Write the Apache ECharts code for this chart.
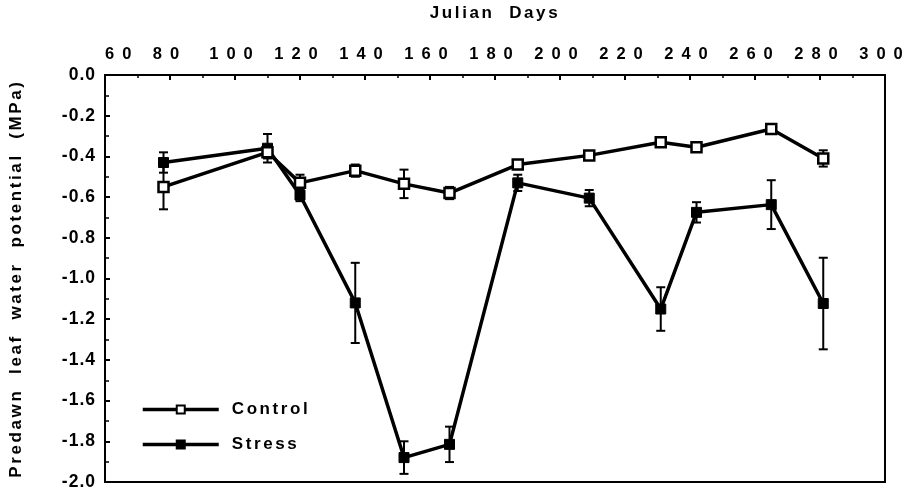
<!DOCTYPE html>
<html>
<head>
<meta charset="utf-8">
<script src="https://cdn.jsdelivr.net/npm/echarts@6/dist/echarts.min.js"></script>
<style>html,body{margin:0;padding:0;background:#fff}#c{width:908px;height:492px}</style>
</head>
<body>
<div id="c"></div>
<script>
var days = [78, 110, 120, 137, 152, 166, 187, 209, 231, 242, 265, 281];
var controlVals = [-0.55, -0.38, -0.53, -0.47, -0.535, -0.58, -0.44, -0.395, -0.33, -0.355, -0.265, -0.41];
var controlErr  = [0.11, 0.03, 0.04, 0.03, 0.07, 0.03, 0.02, 0.01, 0.02, 0.01, 0.02, 0.04];
var stressVals  = [-0.43, -0.36, -0.59, -1.12, -1.88, -1.815, -0.53, -0.605, -1.15, -0.675, -0.637, -1.123];
var stressErr   = [0.05, 0.07, 0.03, 0.197, 0.08, 0.087, 0.04, 0.04, 0.107, 0.05, 0.12, 0.225];
var xTicks = [60, 80, 100, 120, 140, 160, 180, 200, 220, 240, 260, 280, 300];
var yTicks = [0, -0.2, -0.4, -0.6, -0.8, -1.0, -1.2, -1.4, -1.6, -1.8, -2.0];

// letter spacing of the original typesetting, keyed by font size
(function(){
  var P = CanvasRenderingContext2D.prototype;
  var spacing = {'16.5px':'8px', '17.5px':'1px', '17px':'2.6px'};
  function setLS(ctx){
    if (!('letterSpacing' in ctx)) return;
    var m = /([\d.]+px)/.exec(ctx.font || '');
    ctx.letterSpacing = (m && spacing[m[1]]) || '0px';
  }
  var f = P.fillText, s = P.strokeText;
  P.fillText = function(){ setLS(this); return f.apply(this, arguments); };
  P.strokeText = function(){ setLS(this); return s.apply(this, arguments); };
})();

var FONT = 'Liberation Sans';
function pairs(v){ return days.map(function(d,i){ return [d, v[i]]; }); }
function errData(v,e){ return days.map(function(d,i){ return [d, v[i], e[i]]; }); }
function errRender(params, api){
  var x = api.value(0), y = api.value(1), e = api.value(2);
  var top = api.coord([x, y + e]);
  var bot = api.coord([x, y - e]);
  var w = 4.5;
  var st = {stroke:'#000', lineWidth:2};
  return {type:'group', children:[
    {type:'line', shape:{x1:top[0], y1:top[1], x2:bot[0], y2:bot[1]}, style:st},
    {type:'line', shape:{x1:top[0]-w, y1:top[1], x2:top[0]+w, y2:top[1]}, style:st},
    {type:'line', shape:{x1:bot[0]-w, y1:bot[1], x2:bot[0]+w, y2:bot[1]}, style:st}
  ]};
}
var chart = echarts.init(document.getElementById('c'), null, {renderer:'canvas'});
chart.setOption({
  animation:false,
  backgroundColor:'#fff',
  grid:{left:103, right:23, top:73, bottom:10, show:true, borderColor:'#000', borderWidth:2, backgroundColor:'transparent'},
  xAxis:{
    type:'value', position:'top', min:xTicks[0], max:xTicks[xTicks.length-1], interval:20,
    name:'Julian  Days', nameLocation:'middle', nameGap:53,
    nameTextStyle:{fontFamily:FONT, fontWeight:'bold', fontSize:17, color:'#000'},
    axisLine:{show:true, lineStyle:{color:'#000', width:2}},
    axisTick:{show:true, inside:true, length:5, lineStyle:{color:'#000', width:2}},
    minorTick:{show:true, splitNumber:2, length:3, lineStyle:{color:'#000', width:1.5}},
    splitLine:{show:false},
    axisLabel:{fontFamily:FONT, fontWeight:'bold', fontSize:16.5, color:'#000', margin:12, alignMinLabel:'left'}
  },
  yAxis:{
    type:'value', min:-2, max:0, interval:0.2,
    name:'Predawn  leaf  water  potential  (MPa)', nameLocation:'middle', nameGap:80, nameRotate:90,
    nameTextStyle:{fontFamily:FONT, fontWeight:'bold', fontSize:17, color:'#000'},
    axisLine:{show:true, lineStyle:{color:'#000', width:2}},
    axisTick:{show:true, inside:true, length:5, lineStyle:{color:'#000', width:2}},
    minorTick:{show:true, splitNumber:2, length:4, lineStyle:{color:'#000', width:1.5}},
    splitLine:{show:false},
    axisLabel:{fontFamily:FONT, fontWeight:'bold', fontSize:17.5, color:'#000', margin:9,
      formatter:function(v){ return v.toFixed(1); }}
  },
  legend:{
    orient:'vertical', left:141, top:401, padding:0, itemWidth:76, itemHeight:10, itemGap:18,
    data:['Control','Stress'],
    lineStyle:{width:3.5, color:'#000'},
    textStyle:{fontFamily:FONT, fontWeight:'bold', fontSize:17, color:'#000', padding:[0,0,0,8]}
  },
  series:[
    {name:'Control err', type:'custom', renderItem:errRender, data:errData(controlVals, controlErr), z:1, silent:true},
    {name:'Stress err', type:'custom', renderItem:errRender, data:errData(stressVals, stressErr), z:1, silent:true},
    {name:'Stress', type:'line', data:pairs(stressVals), symbol:'rect', symbolSize:10, showAllSymbol:true,
      lineStyle:{color:'#000', width:3.5}, itemStyle:{color:'#000', borderColor:'#000', borderWidth:1}, z:3},
    {name:'Control', type:'line', data:pairs(controlVals), symbol:'rect', symbolSize:10, showAllSymbol:true,
      lineStyle:{color:'#000', width:3.5}, itemStyle:{color:'#fff', borderColor:'#000', borderWidth:2.5}, z:4}
  ]
});
</script>
</body>
</html>
